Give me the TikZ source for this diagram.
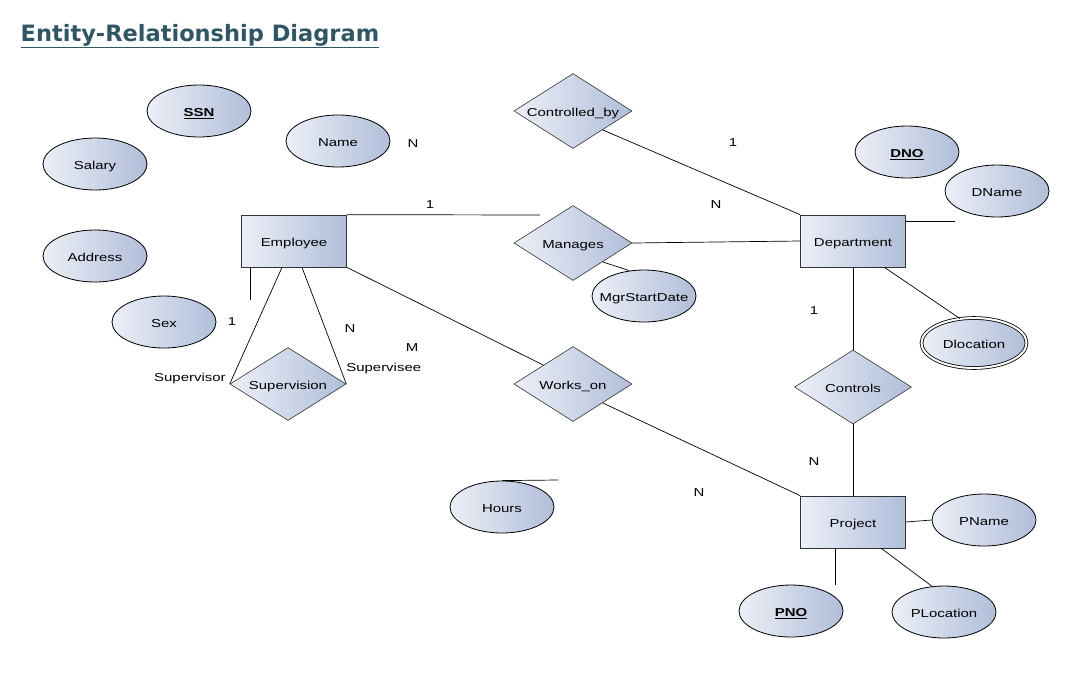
\documentclass[tikz,border=0pt]{standalone}
\usepackage{fontspec}
\setmainfont{Liberation Sans}[FakeStretch=1.3]
\newfontfamily\titlefont{DejaVu Sans}
\usetikzlibrary{shapes.geometric}
\definecolor{erlight}{RGB}{236,239,247}
\definecolor{erdark}{RGB}{176,190,217}
\definecolor{titlecol}{RGB}{47,86,100}
\tikzset{
  attr/.style={draw,shape=ellipse,line width=.8pt,left color=erlight,right color=erdark,
    minimum width=104pt,minimum height=52pt,inner sep=0pt,text height=13pt,text depth=2pt},
  ent/.style={draw=black!80,shape=rectangle,line width=.7pt,left color=erlight,right color=erdark,
    minimum width=105pt,minimum height=52pt,inner sep=0pt,text height=13pt,text depth=2pt},
  rel/.style={draw=black!80,shape=diamond,line width=.6pt,left color=erlight,right color=erdark,
    aspect=1.57,minimum width=118pt,minimum height=75pt,inner sep=0pt,text height=13pt,text depth=2pt},
  card/.style={inner sep=1pt}
}
\begin{document}
\begin{tikzpicture}[x=1pt,y=1pt,font=\fontsize{11.5}{13}\selectfont,line width=.7pt]
		    	\useasboundingbox (0,0) rectangle (1070,-694);
		    	\node[anchor=west,text=titlecol,font=\titlefont\bfseries\fontsize{22.5}{26}\selectfont] (TTL) at (17,-36) {\underline{Entity-Relationship Diagram}};
		    	
		    	\node[attr] (SSN) at (199,-111) {\underline{\textbf{SSN}}};
		    	\node[attr] (NM) at (338,-141) {Name};
		    	\node[attr] (SAL) at (95,-164) {Salary};
		    	\node[attr] (ADR) at (95,-256) {Address};
		    	\node[attr] (SX) at (164,-322) {Sex};
		    	\node[attr] (HRS) at (502,-507) {Hours};
		    	\node[attr,inner xsep=-8pt] (MSD) at (644,-296) {MgrStartDate};
		    	\node[attr] (DNO) at (907,-152) {\underline{\textbf{DNO}}};
		    	\node[attr] (DNM) at (997,-191) {DName};
		    	\node[attr,double,double distance=2pt,minimum width=105pt,minimum height=50pt] (DLC) at (974,-343) {Dlocation};
		    	\node[attr] (PNM) at (984,-520) {PName};
		    	\node[attr] (PNO) at (791,-611) {\underline{\textbf{PNO}}};
		    	\node[attr] (PLC) at (944,-612) {PLocation};
		    	
		    	\node[ent] (EMP) at (294,-241) {Employee};
		    	\node[ent] (DEP) at (853,-241) {Department};
		    	\node[ent] (PRJ) at (853,-522) {Project};
		    	
		    	\node[rel] (CBY) at (573,-111) {Controlled\_by};
		    	\node[rel] (MNG) at (573,-243) {Manages};
		    	\node[rel,minimum width=116pt,minimum height=73pt] (SUP) at (288,-384) {Supervision};
		    	\node[rel] (WON) at (573,-384) {Works\_on};
		    	\node[rel,minimum width=117pt,minimum height=74pt] (CTL) at (853,-387) {Controls};
		    	
		    	\coordinate (MG) at (540,-215);
		    	\coordinate (DK) at (955,-221);
		    	\coordinate (HK) at (558,-480);
		    	\coordinate (PK) at (835,-585);
		    	\coordinate (EK) at (250,-300);
		    	
		    	\draw (EMP.north east)--(MG);
		    	\draw (MNG.east)--(DEP.west);
		    	\draw (MNG.south east)--(MSD.120);
		    	\draw (CBY.south east)--(DEP.north west);
		    	\draw (DEP.east |- DK)--(DK);
		    	\draw (DEP.south)--(CTL.north);
		    	\draw (DEP.-40)--(DLC.120);
		    	\draw (CTL.south)--(PRJ.north);
		    	\draw (EMP.south east)--(WON.north west);
		    	\draw (WON.south east)--(PRJ.north west);
		    	\draw (HRS.north)--(HK);
		    	\draw (PRJ.east)--(PNM.west);
		    	\draw (PRJ.south -| PK)--(PK);
		    	\draw (PRJ.-43)--(PLC.115);
		    	\draw (EMP.south -| EK)--(EK);
		    	\draw ([xshift=-12pt]EMP.south)--(SUP.west);
		    	\draw ([xshift=8pt]EMP.south)--(SUP.east);
		    	
		    	\node[card] (C1) at (413,-144) {N};
		    	\node[card] (C2) at (733,-143) {1};
		    	\node[card] (C3) at (430,-205) {1};
		    	\node[card] (C4) at (716,-205) {N};
		    	\node[card] (C5) at (232,-322) {1};
		    	\node[card] (C6) at (350,-329) {N};
		    	\node[card] (C7) at (412,-348) {M};
		    	\node[card] (C8) at (814,-311) {1};
		    	\node[card] (C9) at (814,-462) {N};
		    	\node[card] (C10) at (699,-493) {N};
		    	\node[card,anchor=east] (RSR) at (227,-379) {Supervisor};
		    	\node[card,anchor=west] (RSE) at (345,-369) {Supervisee};
		    \end{tikzpicture}
\end{document}
